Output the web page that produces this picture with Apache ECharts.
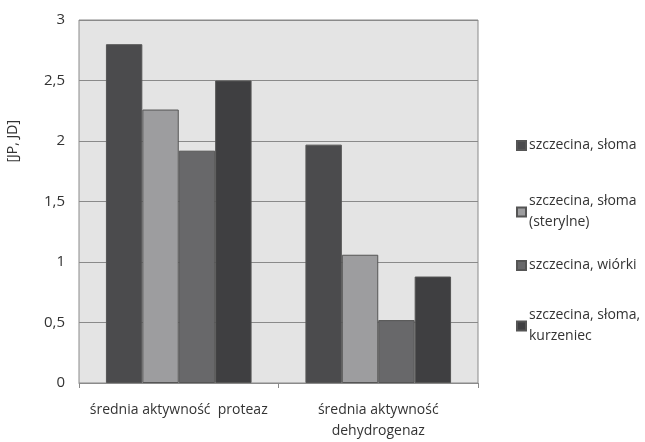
<!DOCTYPE html>
<html><head><meta charset="utf-8">
<script src="https://cdn.jsdelivr.net/npm/echarts@6/dist/echarts.min.js"></script>
<style>html,body{margin:0;padding:0;background:#fff}#c{width:645px;height:442px}</style>
</head><body><div id="c"></div>
<script>
var categories = ['średnia aktywność  proteaz', 'średnia aktywność\ndehydrogenaz'];
var seriesNames = ['szczecina, słoma', 'szczecina, słoma\n(sterylne)', 'szczecina, wiórki', 'szczecina, słoma,\nkurzeniec'];
var s1 = [2.80, 1.97];
var s2 = [2.26, 1.06];
var s3 = [1.92, 0.52];
var s4 = [2.50, 0.88];
var yTickLabels = ['0', '0,5', '1', '1,5', '2', '2,5', '3'];
var yAxisTitle = '[JP, JD]';

var colors = ['#4b4b4d', '#9d9d9f', '#68686a', '#3f3f41'];
var font = 'Open Sans';
var seriesData = [s1, s2, s3, s4];
var chart = echarts.init(document.getElementById('c'), null, {renderer: 'canvas'});
var legendTops = [130, 186, 250, 300];
chart.setOption({
  animation: false,
  color: colors,
  grid: {left: 79, right: 167, top: 20, bottom: 58, show: true, backgroundColor: '#e4e4e4', borderColor: '#8a8a8a', borderWidth: 1},
  legend: seriesNames.map(function (n, i) {
    return {data: [n], left: 511, top: legendTops[i], orient: 'vertical', itemWidth: 9, itemHeight: 9, itemGap: 0,
      icon: 'rect', textStyle: {fontFamily: font, fontSize: 14, color: '#333', lineHeight: 21, padding: [0, 0, 0, -2]}};
  }),
  xAxis: {type: 'category', data: categories,
    axisLine: {show: true, lineStyle: {color: '#8a8a8a'}},
    axisTick: {show: true, length: 5, lineStyle: {color: '#8a8a8a'}},
    axisLabel: {interval: 0, fontFamily: font, fontSize: 14, color: '#333', margin: 17, lineHeight: 21}},
  yAxis: {type: 'value', min: 0, max: 3, interval: 0.5,
    axisLine: {show: false}, axisTick: {show: false},
    splitLine: {lineStyle: {color: '#8a8a8a', width: 1}},
    axisLabel: {fontFamily: font, fontSize: 15, color: '#333', margin: 14,
      formatter: function (v) { return yTickLabels[Math.round(v / 0.5)]; }}},
  graphic: [{type: 'text', left: 6, top: 120, rotation: Math.PI / 2,
    style: {text: yAxisTitle, fontFamily: font, fontSize: 14, fill: '#333'}}],
  series: seriesData.map(function (d, i) {
    return {type: 'bar', name: seriesNames[i], data: d, barGap: '0%', barCategoryGap: '27%',
      itemStyle: {color: colors[i], borderColor: '#555', borderWidth: 1}};
  })
});
</script></body></html>
